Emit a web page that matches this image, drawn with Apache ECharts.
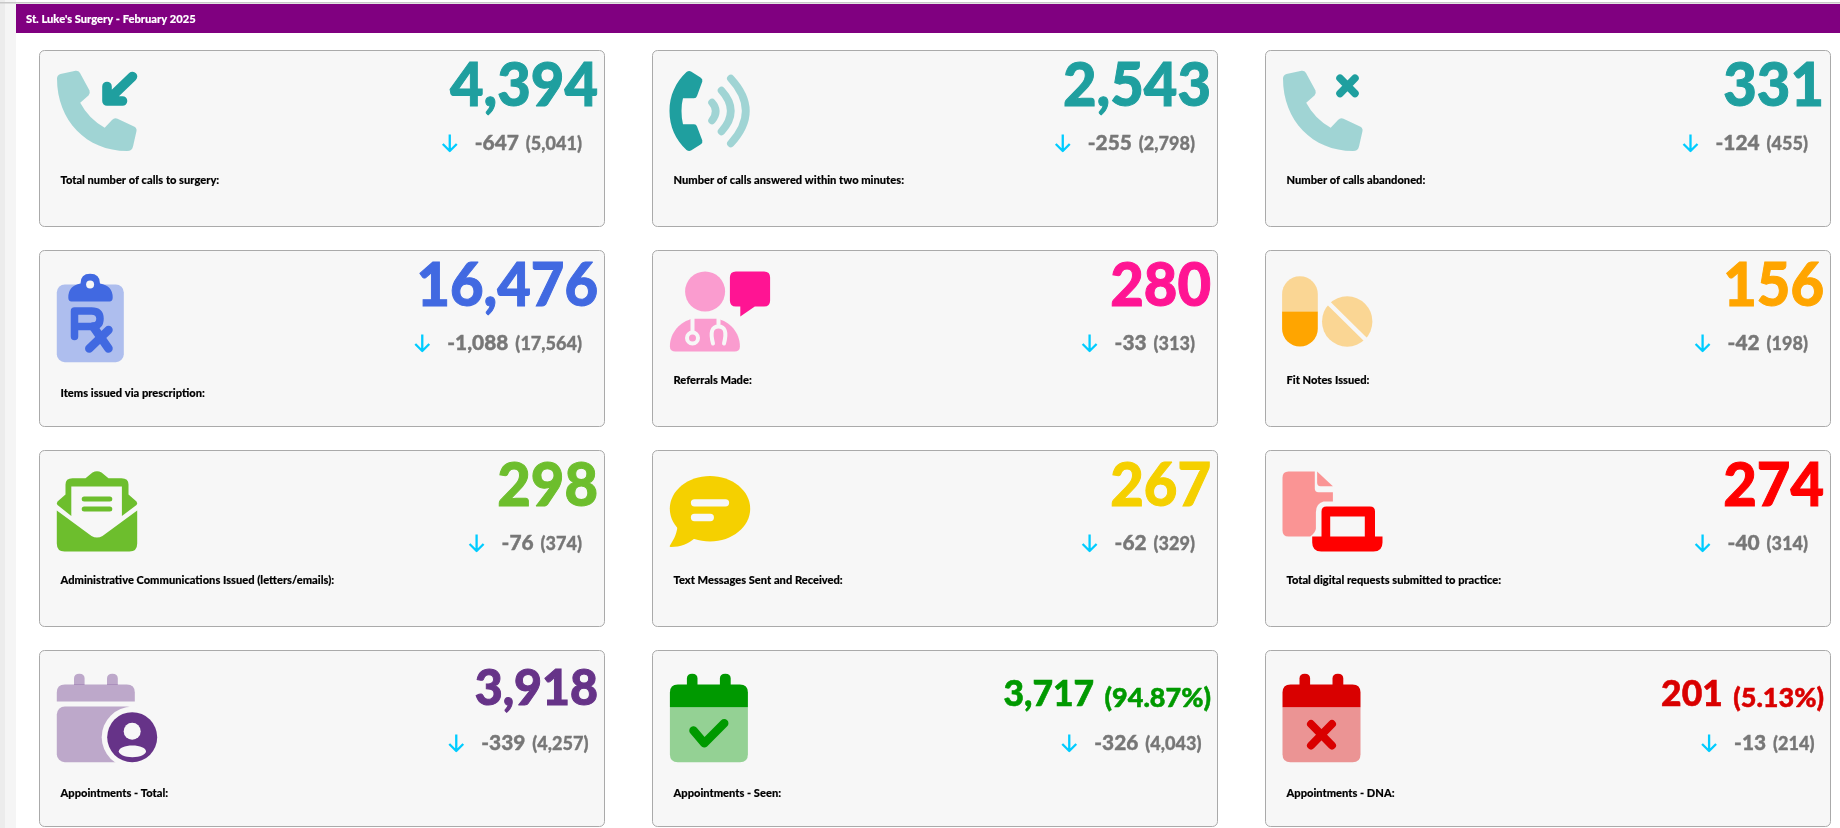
<!DOCTYPE html>
<html>
<head>
<meta charset="utf-8">
<style>html,body{margin:0;padding:0;background:#fff}#c{width:1840px;height:828px}</style>
<script src="https://cdn.jsdelivr.net/npm/echarts@6/dist/echarts.min.js"></script>
</head>
<body>
<div id="c"></div>
<script>
const title = "St. Luke's Surgery - February 2025";
const labels = ["Total number of calls to surgery:","Number of calls answered within two minutes:","Number of calls abandoned:","Items issued via prescription:","Referrals Made:","Fit Notes Issued:","Administrative Communications Issued (letters/emails):","Text Messages Sent and Received:","Total digital requests submitted to practice:","Appointments - Total:","Appointments - Seen:","Appointments - DNA:"];
const totals = [4394,2543,331,16476,280,156,298,267,274,3918,3717,201];
const percents = [null,null,null,null,null,null,null,null,null,null,94.87,5.13];
const changes = [-647,-255,-124,-1088,-33,-42,-76,-62,-40,-339,-326,-13];
const previous = [5041,2798,455,17564,313,198,374,329,314,4257,4043,214];
const colNames = ["left","middle","right"];
const rowNames = ["calls","clinical","comms","appointments"];
const colors = ["#1F9F9F","#1F9F9F","#1F9F9F","#4169E1","#FF1493","#FFA500","#6DBE2D","#F5D000","#FF0000","#663388","#009900","#D90000"];
const iconNames = ["phoneIn","phoneWave","phoneX","rx","doctor","pills","mail","chat","fileLaptop","calUser","calCheck","calX"];

const CARD = "#F7F7F7", ARROW = "#00CCFF", GREY = "#777777";
const ctx = document.createElement("canvas").getContext("2d");
function tw(s, size, sx){ ctx.font = "900 " + size + "px Lato"; return ctx.measureText(s).width * sx; }
function fmt(v){ return v.toLocaleString("en-US"); }

function P(d, fill, op){ return {type:"path", shape:{pathData:d}, style:{fill:fill, stroke:null, opacity:op==null?1:op}}; }
function S(d, stroke, w, cap, op){ return {type:"path", shape:{pathData:d}, style:{fill:"none", stroke:stroke, lineWidth:w, lineCap:cap||"round", lineJoin:"round", opacity:op==null?1:op}}; }
function C(cx, cy, r, fill, op){ return {type:"circle", shape:{cx:cx, cy:cy, r:r}, style:{fill:fill, opacity:op==null?1:op}}; }
function E(cx, cy, rx, ry, fill){ return {type:"ellipse", shape:{cx:cx, cy:cy, rx:rx, ry:ry}, style:{fill:fill}}; }
function R(x, y, w, h, fill, r, op){ return {type:"rect", shape:{x:x, y:y, width:w, height:h, r:r||0}, style:{fill:fill, opacity:op==null?1:op}}; }

const HANDSET = "M21 23.5L36 20.2Q39 19.8 40.5 22.5L50 40Q51 43 49 45L40.7 52.2Q49 68 65.2 77.2L72.5 69.5Q75 67 78 68.3L94.5 76Q97.5 77.5 97 80.5L93.5 96Q92.5 100.5 87.5 100.5C47 100.5 17.5 70 17.5 28Q17.5 24.5 21 23.5Z";
function calTop(x, c, op){
  return [
    P("M"+(x+17)+" 34.5V28Q"+(x+17)+" 23.3 "+(x+22.3)+" 23.3Q"+(x+27.6)+" 23.3 "+(x+27.6)+" 28V34.5Z", c, op),
    P("M"+(x+50)+" 34.5V28Q"+(x+50)+" 23.3 "+(x+55.4)+" 23.3Q"+(x+60.8)+" 23.3 "+(x+60.8)+" 28V34.5Z", c, op)
  ];
}
function calHead(x, bottom, c, op){
  const r = x + 78;
  return P("M"+x+" "+bottom+"V42Q"+x+" 34 "+(x+8)+" 34H"+(r-8)+"Q"+r+" 34 "+r+" 42V"+bottom+"Z", c, op);
}
function calBody(x, top, c, op){
  const r = x + 78;
  return P("M"+x+" "+top+"H"+r+"V103.7Q"+r+" 111.7 "+(r-8)+" 111.7H"+(x+8)+"Q"+x+" 111.7 "+x+" 103.7Z", c, op);
}
const icons = {
  phoneIn: c => [P(HANDSET, c, .4), S("M67.5 36V50.5H83M67.5 50.5L93 26", c, 9.6)],
  phoneWave: c => [
    P("M34 21.5Q36.5 19.8 38.5 21L48 27Q50.5 28.5 49.8 31L44.5 45.5Q43.8 47.8 41.5 47.8L30.5 47.8Q29 53 29 60.5Q29 68 30.5 73.8L41.5 73.8Q43.8 73.8 44.5 76L49.8 90Q50.5 92.5 48 94L38.5 100Q36.5 101.2 34 99.5C23 89 17 76 17 60.5C17 45 23 32 34 21.5Z", c),
    S("M59.5 52Q67 60.5 59.5 70", c, 7.5, "round", .4),
    S("M69 40Q87.6 60.5 69 81", c, 7.5, "round", .4),
    S("M78.3 28Q108.3 60.5 78.3 93", c, 7.5, "round", .4)
  ],
  phoneX: c => [P(HANDSET, c, .4), S("M74.5 27.7L89.5 43M89.5 27.7L74.5 43", c, 7.5)],
  rx: c => [
    R(17.3, 34, 67, 77.7, c, 8, .4),
    P("M32 51Q28.8 51 28.8 47Q28.8 35 41 33Q41 23.3 50.6 23.3Q60.5 23.3 60.5 33Q73.2 35 73.2 47Q73.2 51 70 51Z", c),
    C(50.6, 34, 4, CARD),
    S("M35 86V60.5H52Q60.5 60.5 60.5 68.3Q60.5 76 52 76H35", c, 7.5),
    S("M53.6 76L69 98M49.8 98L69 79.5", c, 8.5)
  ],
  doctor: c => [
    C(52.6, 41, 20, c, .4),
    P("M23 101Q17.4 101 17.4 96C17.4 82 28 71 40 68.3H65C77 71 87.4 82 87.4 96Q87.4 101 82 101Z", c, .4),
    S("M40 68V80", CARD, 4),
    S("M40 82A5.4 5.4 0 1 0 40 93A5.4 5.4 0 1 0 40 82Z", CARD, 4),
    S("M66 68V76M60.5 93Q56 76 66 76Q76 76 71.5 93", CARD, 4),
    P("M83.4 21H111.6Q117.6 21 117.6 27V50Q117.6 56 111.6 56H102.3L87.8 66V56H83.4Q77.4 56 77.4 50V27Q77.4 21 83.4 21Z", c)
  ],
  pills: c => [
    P("M16.6 61V43.5A17.85 17.85 0 0 1 52.3 43.5V61Z", c, .4),
    P("M16.6 61H52.3V78.2A17.85 17.85 0 0 1 16.6 78.2Z", c),
    C(81.7, 71, 25.2, c, .4),
    S("M62 51.5L101.5 90.5", CARD, 4.5, "butt")
  ],
  mail: c => [
    P("M17.3 60L52 85.5Q57.5 88.5 63 85.5L97.7 60V93Q97.7 101 90 101H25Q17.3 101 17.3 93Z", c),
    P("M18 51L26 44V34Q26 27.7 33 27.7H46L53 22Q57.5 19.5 62 22L69 27.7H82Q89 27.7 89 34V44L97 51Q98.5 53 97 54.5L82.4 65.5H31.8L18 54.5Q16.5 53 18 51Z", c),
    R(31.8, 36, 50.6, 30, CARD),
    S("M44.7 48.5H70.3M44.7 58.5H70.3", c, 5)
  ],
  chat: c => [
    E(57.5, 58.3, 40.2, 32.7, c),
    P("M25 76C24 85 20 91 17.4 95Q16.5 96.5 18.5 96.5C28 96.5 36 93 42 88Z", c),
    S("M42 52.3H73M42 67H57.8", CARD, 7.3)
  ],
  fileLaptop: c => [
    P("M23 21H49.3V38Q49.3 41.7 53 41.7H67.4V51H58Q50.4 53 50.4 61.7V78.3Q50 82 44.8 86H23Q17 86 17 80V27Q17 21 23 21Z", c, .4),
    P("M51.6 21L67.4 35.7H55Q51.6 35.7 51.6 32Z", c, .4),
    P("M61 56H104.5Q109.5 56 109.5 61V86H117V92Q117 101 108 101H55.7Q46.7 101 46.7 92V86H56V61Q56 56 61 56Z", c),
    R(64.7, 66, 34.6, 20, CARD)
  ],
  calUser: c => [
    ...calTop(17.5, c, .4),
    calHead(17.3, 51, c, .4),
    R(17.3, 56, 78, 55.7, c, 8, .4),
    C(92.7, 86.7, 30.5, CARD),
    C(92.7, 86.7, 25, c),
    C(92.7, 80.7, 8.5, CARD),
    E(92.9, 100.8, 13.6, 5.9, CARD)
  ],
  calCheck: c => [
    ...calTop(17.4, c),
    calHead(17.4, 56.7, c),
    calBody(17.4, 56.7, c, .4),
    S("M41 80L51.8 92.7L71.7 72.7", c, 8.5)
  ],
  calX: c => [
    ...calTop(17, c),
    calHead(17, 56.7, c),
    calBody(17, 56.7, c, .4),
    S("M45.5 73.5L66.5 95M66.5 73.5L45.5 95", c, 8)
  ]
};

function T(text, x, baseline, size, fill, align, sx, bold){
  return {type:"text", x:x, y:baseline - size*0.387, scaleX:sx, style:{text:text, x:0, y:0, fontFamily:"Lato", fontWeight:900, fontSize:size, fill:fill, stroke:fill, lineWidth:bold, align:align||"left", verticalAlign:"middle"}};
}

const W = 565, H = 176;
function renderItem(params, api){
  const i = api.value(2);
  const col = colors[i], row = Math.floor(i/3);
  const c = api.coord([api.value(0), api.value(1)]);
  const kids = [{type:"rect", shape:{x:0, y:0, width:W, height:H, r:5}, style:{fill:CARD, stroke:"#AAAAAA", lineWidth:1}}];
  kids.push.apply(kids, icons[iconNames[i]](col));

  const right = W - 6.5;
  if (percents[i] != null) {
    const ps = "(" + percents[i].toFixed(2) + "%)";
    kids.push(T(ps, right, 58, 27, col, "right", 1, .5));
    kids.push(T(fmt(totals[i]), right - tw(ps, 27, 1) - 10.5, 58, 36, col, "right", .985, .6));
  } else {
    const big = row === 3 ? 50 : 60;
    kids.push(T(fmt(totals[i]), right, row === 3 ? 58 : 59, big, col, "right", .965, 1));
  }
  const subR = W - (row === 3 ? 16 : 22.5);
  const a = fmt(changes[i]), b = "(" + fmt(previous[i]) + ")";
  const bw = tw(b, 19, .95), aw = tw(a, 21.5, .97);
  kids.push(T(b, subR, 100.5, 19, GREY, "right", .95, .3));
  kids.push(T(a, subR - bw - 7, 100.5, 21.5, GREY, "right", .97, .4));
  const ax = subR - bw - 7 - aw - 25;
  kids.push(S("M"+ax+" 84V100.5M"+(ax-7)+" 93.5L"+ax+" 100.5L"+(ax+7)+" 93.5", ARROW, 2.3, "butt"));

  const tall = iconNames[i] === "rx" || row === 3;
  kids.push(T(labels[i], 21, (tall ? 143 : 130) + 4, 11.5, "#000000", "left", .967, .15));
  return {type:"group", x:c[0]-W/2, y:c[1]-H/2, children:kids};
}

const chart = echarts.init(document.getElementById("c"), null, {renderer:"canvas"});
chart.setOption({
  animation:false,
  backgroundColor:"#FFFFFF",
  grid:{left:15.5, top:38.5, width:1839, height:800, outerBoundsMode:"none", containLabel:false},
  xAxis:{type:"category", data:colNames, show:false},
  yAxis:{type:"category", data:rowNames, inverse:true, show:false},
  graphic:{elements:[
    {type:"rect", silent:true, shape:{x:0,y:0,width:5,height:828}, style:{fill:"#ECECEC"}},
    {type:"rect", silent:true, shape:{x:5,y:0,width:11,height:828}, style:{fill:"#F5F5F5"}},
    {type:"rect", silent:true, shape:{x:0,y:2,width:1840,height:1.5}, style:{fill:"#C8C8C8"}},
    {type:"rect", silent:true, shape:{x:16,y:4,width:1824,height:29}, style:{fill:"#800080"}},
    {type:"text", silent:true, x:26, y:19, scaleX:.97, style:{text:title, fontFamily:"Lato", fontWeight:900, fontSize:11.5, fill:"#FFFFFF", stroke:"#FFFFFF", lineWidth:.15, verticalAlign:"middle"}}
  ]},
  series:[{
    type:"custom",
    coordinateSystem:"cartesian2d",
    clip:false,
    silent:true,
    renderItem:renderItem,
    data:labels.map((_, i) => [i % 3, Math.floor(i / 3), i])
  }]
});
</script>
</body>
</html>
